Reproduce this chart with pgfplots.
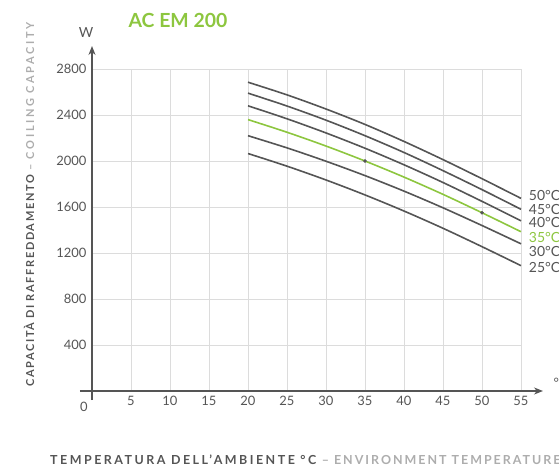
\documentclass[border=0pt]{standalone}
\usepackage{pgfplots}
\pgfplotsset{compat=1.18}
\usepackage{fontspec}
\setmainfont{Lato}
\usetikzlibrary{arrows.meta}
\definecolor{dk}{HTML}{555555}
\definecolor{lg}{HTML}{ADADAD}
\definecolor{gr}{HTML}{8DC63F}
\definecolor{gridc}{HTML}{DCDCDC}

\begin{document}
\begin{tikzpicture}
\clip (-92bp,-79bp) rectangle (467bp,391bp);
\useasboundingbox (-92bp,-79bp) rectangle (467bp,391bp);
\begin{axis}[
  at={(0,0)}, anchor=south west,
  scale only axis, width=429bp, height=322bp,
  xmin=0, xmax=55, ymin=0, ymax=2800,
  axis line style={draw=none},
  grid=major, major grid style={gridc, line width=0.7pt},
  major tick length=0pt,
  xtick={5,10,...,55}, ytick={400,800,...,2800},
  tick label style={font=\fontsize{13}{14}\selectfont, text=dk},
  /pgf/number format/assume math mode=true,
  scaled ticks=false, /pgf/number format/1000 sep={},
  xticklabel style={yshift=-2bp},
  yticklabel style={xshift=-2bp},
  clip=false,
]
% 50, 45, 40, 30, 25 degC
\addplot[dk, line width=1.6bp, smooth] coordinates {(20,2685) (25,2575) (30,2452) (35,2318) (40,2170) (45,2012) (50,1846) (55,1675)};
\addplot[dk, line width=1.6bp, smooth] coordinates {(20,2590) (25,2478) (30,2355) (35,2220) (40,2074) (45,1916) (50,1751) (55,1580)};
\addplot[dk, line width=1.6bp, smooth] coordinates {(20,2480) (25,2367) (30,2244) (35,2111) (40,1967) (45,1813) (50,1649) (55,1480)};
\addplot[dk, line width=1.6bp, smooth] coordinates {(20,2220) (25,2114) (30,1998) (35,1873) (40,1738) (45,1593) (50,1439) (55,1280)};
\addplot[dk, line width=1.6bp, smooth] coordinates {(20,2065) (25,1955) (30,1835) (35,1705) (40,1565) (45,1415) (50,1255) (55,1090)};
% 35 degC
\addplot[gr, line width=1.6bp, smooth] coordinates {(20,2360) (25,2250) (30,2130) (35,2000) (40,1860) (45,1710) (50,1550) (55,1385)};
\addplot[dk, only marks, mark=*, mark size=1.7bp] coordinates {(35,2000) (50,1550)};

\begin{scope}[font=\fontsize{14}{14}\selectfont, anchor=west, inner sep=0pt]
\node[dk] at (axis cs:56,1704) {50°C};
\node[dk] at (axis cs:56,1574) {45°C};
\node[dk] at (axis cs:56,1461) {40°C};
\node[gr] at (axis cs:56,1339) {35°C};
\node[dk] at (axis cs:56,1209) {30°C};
\node[dk] at (axis cs:56,1078) {25°C};
\end{scope}
\end{axis}

\draw[dk, line width=1.8bp, -{Stealth[length=9bp,width=7bp]}] (-12bp,0) -- (451bp,0);
\draw[dk, line width=1.8bp, -{Stealth[length=9bp,width=7bp]}] (0,-9bp) -- (0,345bp);
\node[dk, font=\fontsize{13}{14}\selectfont] at (-8bp,-16bp) {0};
\node[dk, font=\fontsize{14}{14}\selectfont] at (-6bp,358bp) {W};
\node[dk, font=\fontsize{13}{14}\selectfont, anchor=west] at (458bp,8bp) {°C};
\node[gr, font=\fontsize{19.5}{20}\bfseries] at (86bp,371bp) {AC EM 200};
\node[rotate=90, anchor=west, inner sep=0pt, font=\fontsize{11}{12}\bfseries] at (-63bp,4bp)
  {\addfontfeatures{LetterSpace=15}\textcolor{dk}{CAPACITÀ DI RAFFREDDAMENTO} {\addfontfeatures{LetterSpace=24}\textcolor{lg}{– COILING CAPACITY}}};
\node[anchor=west, inner sep=0pt, font=\fontsize{12.5}{13}\bfseries] at (-42bp,-69bp)
  {\addfontfeatures{LetterSpace=20}\textcolor{dk}{TEMPERATURA DELL'AMBIENTE °C} {\addfontfeatures{LetterSpace=16}\textcolor{lg}{– ENVIRONMENT TEMPERATURE}}};
\end{tikzpicture}
\end{document}
